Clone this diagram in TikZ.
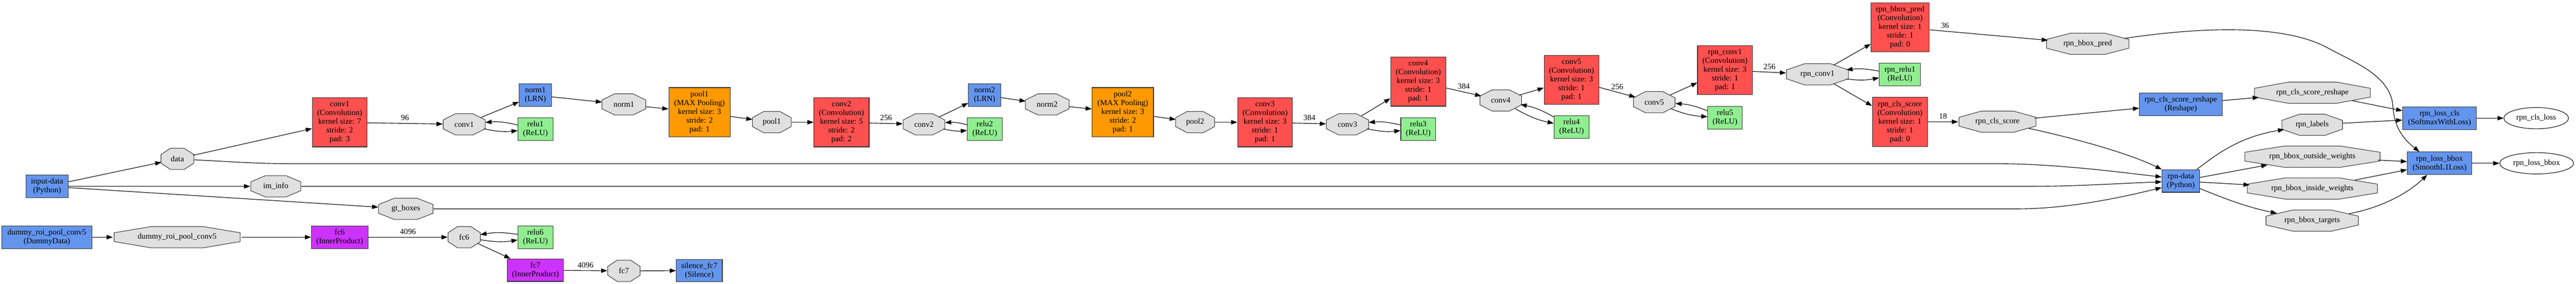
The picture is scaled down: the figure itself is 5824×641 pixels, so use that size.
\documentclass[tikz,border=0pt]{standalone}
\usepackage{fontspec}
\setmainfont{Liberation Serif}
\usetikzlibrary{arrows.meta,shapes.geometric,calc}
\definecolor{convred}{RGB}{255,80,80}
\definecolor{poolorange}{RGB}{255,153,0}
\definecolor{gvblue}{RGB}{100,149,237}
\definecolor{gvgreen}{RGB}{144,238,144}
\definecolor{gvpurple}{RGB}{204,51,255}
\definecolor{octgray}{RGB}{224,224,224}
\newcommand{\gvfont}{\fontsize{18}{19.8}\selectfont}
% octagon blob: name, cx, cy, full width, text
\newcommand{\gvoct}[5]{%
  \pgfmathsetmacro\gvA{#4/2}%
  \pgfmathsetmacro\gvK{0.41421*#4/2}%
  \filldraw[octdraw] ({#2-\gvA},{#3-9.94}) -- ({#2-\gvK},{#3-24}) -- ({#2+\gvK},{#3-24}) -- ({#2+\gvA},{#3-9.94})
     -- ({#2+\gvA},{#3+9.94}) -- ({#2+\gvK},{#3+24}) -- ({#2-\gvK},{#3+24}) -- ({#2-\gvA},{#3+9.94}) -- cycle;
  \node[octnode, minimum width={1.02*#4}] (#1) at (#2,#3) {#5};
}
\begin{document}
\begin{tikzpicture}[x=1pt,y=-1pt,
  gvbox/.style={rectangle, draw=black!80, line width=1.3pt, inner sep=0pt, align=center, font=\gvfont, minimum height=51},
  tall/.style={minimum height=111},
  conv/.style={gvbox, tall, fill=convred},
  poolb/.style={gvbox, tall, fill=poolorange},
  blueb/.style={gvbox, fill=gvblue},
  greenb/.style={gvbox, fill=gvgreen},
  purpleb/.style={gvbox, fill=gvpurple},
  octdraw/.style={fill=octgray, draw=black!80, line width=1.2pt},
  octnode/.style={ellipse, inner sep=0pt, draw=none, font=\gvfont, minimum height=49},
  ellout/.style={ellipse, inner sep=0pt, draw=black, line width=1.2pt, fill=white, font=\gvfont, minimum height=48},
  link/.style={draw=black, line width=1.3pt, -{Triangle[length=14pt,width=10pt]}},
  lbl/.style={font=\gvfont, inner sep=0pt, above=6pt},
]
\fill[white] (0,0) rectangle (5824,641);
\useasboundingbox (0,0) rectangle (5824,641);

% ---------- boxes ----------
\node[blueb, minimum width=95] (inputdata) at (106.5,421) {input-data\\(Python)};
\node[blueb, minimum width=204] (dummyb) at (106,536) {dummy\_roi\_pool\_conv5\\(DummyData)};
\node[conv, minimum width=124] (conv1b) at (768,276.5) {conv1\\(Convolution)\\kernel size: 7\\stride: 2\\pad: 3};
\node[purpleb, minimum width=128] (fc6b) at (768,536) {fc6\\(InnerProduct)};
\node[blueb, minimum width=73] (norm1b) at (1210.5,215) {norm1\\(LRN)};
\node[greenb, minimum width=79] (relu1) at (1210.5,291.5) {relu1\\(ReLU)};
\node[greenb, minimum width=79] (relu6) at (1210.5,536) {relu6\\(ReLU)};
\node[purpleb, minimum width=127] (fc7b) at (1210.5,610.5) {fc7\\(InnerProduct)};
\node[poolb, minimum width=139] (pool1b) at (1581.5,253.5) {pool1\\(MAX Pooling)\\kernel size: 3\\stride: 2\\pad: 1};
\node[blueb, minimum width=104] (silence) at (1581,611.5) {silence\_fc7\\(Silence)};
\node[conv, minimum width=125] (conv2b) at (1902.5,276.5) {conv2\\(Convolution)\\kernel size: 5\\stride: 2\\pad: 2};
\node[blueb, minimum width=73] (norm2b) at (2226,215) {norm2\\(LRN)};
\node[greenb, minimum width=79] (relu2) at (2226.5,291.5) {relu2\\(ReLU)};
\node[poolb, minimum width=139] (pool2b) at (2538.5,253.5) {pool2\\(MAX Pooling)\\kernel size: 3\\stride: 2\\pad: 1};
\node[conv, minimum width=124] (conv3b) at (2860,276.5) {conv3\\(Convolution)\\kernel size: 3\\stride: 1\\pad: 1};
\node[conv, minimum width=125] (conv4b) at (3206.5,184.5) {conv4\\(Convolution)\\kernel size: 3\\stride: 1\\pad: 1};
\node[greenb, minimum width=79] (relu3) at (3206.5,291.5) {relu3\\(ReLU)};
\node[conv, minimum width=124] (conv5b) at (3553,180.5) {conv5\\(Convolution)\\kernel size: 3\\stride: 1\\pad: 1};
\node[greenb, minimum width=79] (relu4) at (3553,287) {relu4\\(ReLU)};
\node[conv, minimum width=124] (rpnconv1b) at (3900,158.5) {rpn\_conv1\\(Convolution)\\kernel size: 3\\stride: 1\\pad: 1};
\node[greenb, minimum width=78] (relu5) at (3900,266) {relu5\\(ReLU)};
\node[conv, minimum width=132] (rpnbboxb) at (4296,61.5) {rpn\_bbox\_pred\\(Convolution)\\kernel size: 1\\stride: 1\\pad: 0};
\node[greenb, minimum width=93] (rpnrelu1) at (4295.5,168.5) {rpn\_relu1\\(ReLU)};
\node[conv, minimum width=125] (rpnclsb) at (4295.5,275.5) {rpn\_cls\_score\\(Convolution)\\kernel size: 1\\stride: 1\\pad: 0};
\node[blueb, minimum width=187] (reshapeb) at (4930.5,235.5) {rpn\_cls\_score\_reshape\\(Reshape)};
\node[blueb, minimum width=85] (rpndata) at (4930.5,409) {rpn-data\\(Python)};
\node[blueb, minimum width=167] (losscls) at (5515.5,267) {rpn\_loss\_cls\\(SoftmaxWithLoss)};
\node[blueb, minimum width=146] (lossbboxL) at (5515.5,369) {rpn\_loss\_bbox\\(SmoothL1Loss)};
\node[ellout, minimum width=146] (clslossE) at (5734,267) {rpn\_cls\_loss};
\node[ellout, minimum width=167] (bboxlossE) at (5735,369) {rpn\_loss\_bbox};

% ---------- blobs ----------
\gvoct{data}{401}{359}{74}{data}
\gvoct{dummyo}{400.5}{536}{285}{dummy\_roi\_pool\_conv5}
\gvoct{iminfo}{623.5}{421}{113}{im\_info}
\gvoct{gt}{917.5}{472}{123}{gt\_boxes}
\gvoct{conv1o}{1049.5}{281}{95}{conv1}
\gvoct{norm1o}{1410.5}{236}{99}{norm1}
\gvoct{fc6o}{1049.5}{536}{73}{fc6}
\gvoct{fc7o}{1410.5}{612}{73}{fc7}
\gvoct{pool1o}{1745}{276}{88}{pool1}
\gvoct{conv2o}{2089}{281}{94}{conv2}
\gvoct{norm2o}{2367.5}{236}{99}{norm2}
\gvoct{pool2o}{2702}{276}{88}{pool2}
\gvoct{conv3o}{3046.5}{281}{95}{conv3}
\gvoct{conv4o}{3393}{227}{94}{conv4}
\gvoct{conv5o}{3740}{231}{94}{conv5}
\gvoct{rpnconv1o}{4109}{168}{140}{rpn\_conv1}
\gvoct{rpnclso}{4516}{275}{174}{rpn\_cls\_score}
\gvoct{rpnbboxo}{4720}{99}{186}{rpn\_bbox\_pred}
\gvoct{reshapeo}{5228}{209.5}{262}{rpn\_cls\_score\_reshape}
\gvoct{labels}{5227.5}{282}{137}{rpn\_labels}
\gvoct{outside}{5228}{354}{306}{rpn\_bbox\_outside\_weights}
\gvoct{inside}{5228}{426}{294}{rpn\_bbox\_inside\_weights}
\gvoct{targets}{5227.5}{498.5}{209}{rpn\_bbox\_targets}

% ---------- edges ----------
\draw[link] (inputdata) -- (data);
\draw[link] (inputdata) -- (iminfo);
\draw[link] (inputdata) -- (gt);
\draw[link] (data) -- (conv1b);
\draw[link] (conv1b) -- node[lbl] {96} (conv1o);
\draw[link] (conv1o) -- (norm1b);
\draw[link] (relu1) to[bend right=9] (conv1o);
\draw[link] (conv1o) to[bend right=9] (relu1);
\draw[link] (norm1b) -- (norm1o);
\draw[link] (norm1o) -- (pool1b);
\draw[link] (pool1b) -- (pool1o);
\draw[link] (pool1o) -- (conv2b);
\draw[link] (conv2b) -- node[lbl] {256} (conv2o);
\draw[link] (conv2o) -- (norm2b);
\draw[link] (relu2) to[bend right=9] (conv2o);
\draw[link] (conv2o) to[bend right=9] (relu2);
\draw[link] (norm2b) -- (norm2o);
\draw[link] (norm2o) -- (pool2b);
\draw[link] (pool2b) -- (pool2o);
\draw[link] (pool2o) -- (conv3b);
\draw[link] (conv3b) -- node[lbl] {384} (conv3o);
\draw[link] (conv3o) -- (conv4b);
\draw[link] (relu3) to[bend right=9] (conv3o);
\draw[link] (conv3o) to[bend right=9] (relu3);
\draw[link] (conv4b) -- node[lbl] {384} (conv4o);
\draw[link] (conv4o) -- (conv5b);
\draw[link] (relu4) to[bend right=9] (conv4o);
\draw[link] (conv4o) to[bend right=9] (relu4);
\draw[link] (conv5b) -- node[lbl] {256} (conv5o);
\draw[link] (conv5o) -- (rpnconv1b);
\draw[link] (relu5) to[bend right=9] (conv5o);
\draw[link] (conv5o) to[bend right=9] (relu5);
\draw[link] (rpnconv1b) -- node[lbl] {256} (rpnconv1o);
\draw[link] (rpnconv1o) -- (rpnbboxb);
\draw[link] (rpnrelu1) to[bend right=9] (rpnconv1o);
\draw[link] (rpnconv1o) to[bend right=9] (rpnrelu1);
\draw[link] (rpnconv1o) -- (rpnclsb);
\draw[link] (rpnbboxb) -- node[lbl, pos=0.13] {36} (rpnbboxo);
\draw[link] (rpnclsb) -- node[lbl] {18} (rpnclso);
\draw[link] (rpnclso) -- (reshapeb);
\draw[link] (reshapeb) -- (reshapeo);
\draw[link] (reshapeo) -- (losscls);
\draw[link] (labels) -- (losscls);
\draw[link] (losscls) -- (clslossE);
\draw[link] (outside) -- (lossbboxL);
\draw[link] (inside) -- (lossbboxL);
\draw[link] (lossbboxL) -- (bboxlossE);
\draw[link] (rpndata) -- (outside);
\draw[link] (rpndata) -- (inside);
% long inputs of rpn-data
\draw[link] (data) .. controls (600,370) .. (720,370) -- (4520,370)
   .. controls (4650,370) and (4808,391) .. ($(rpndata.west)+(0,-9)$);
\draw[link] (iminfo) -- (4600,421) .. controls (4700,421) and (4820,413) .. ($(rpndata.west)+(0,2)$);
\draw[link] (gt) -- (4560,472) .. controls (4680,472) and (4800,445) .. ($(rpndata.west)+(0,15)$);
\draw[link] (rpnclso) .. controls (4680,310) and (4810,345) .. (rpndata.north west);
% rpn-data outputs (curved)
\draw[link] ($(rpndata.north east)+(-7,0)$) .. controls (5010,350) and (5060,310) .. (labels);
\draw[link] ($(rpndata.east)+(0,17)$) .. controls (5020,445) and (5075,467) .. (targets);
\draw[link] (targets) .. controls (5380,470) and (5440,440) .. (lossbboxL);
% rpn_bbox_pred -> rpn_loss_bbox
\draw[link] (rpnbboxo) .. controls (4930,68) and (5150,46) .. (5264,109)
   .. controls (5320,140) and (5405,170) .. (5410,240)
   .. controls (5413,290) and (5435,315) .. ($(lossbboxL.north west)+(28,0)$);
% bottom branch
\draw[link] (dummyb) -- (dummyo);
\draw[link] (dummyo) -- (fc6b);
\draw[link] (fc6b) -- node[lbl] {4096} (fc6o);
\draw[link] (relu6) to[bend right=9] (fc6o);
\draw[link] (fc6o) to[bend right=9] (relu6);
\draw[link] (fc6o) -- (fc7b);
\draw[link] (fc7b) -- node[lbl] {4096} (fc7o);
\draw[link] (fc7o) -- (silence);
\end{tikzpicture}
\end{document}
